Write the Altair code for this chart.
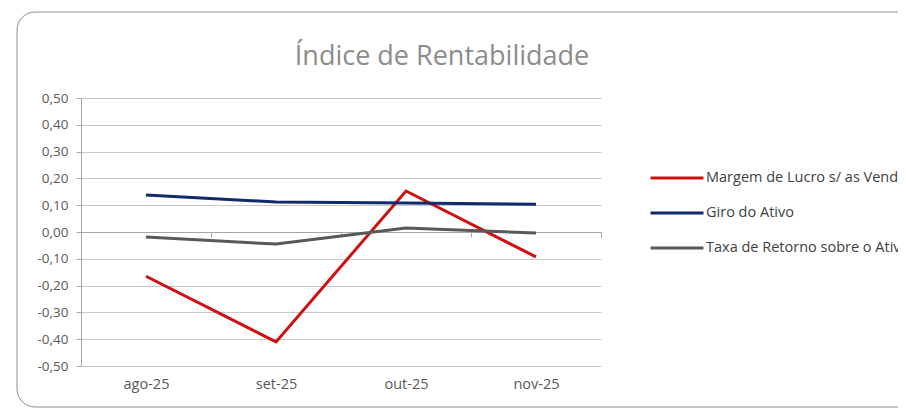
import altair as alt
import pandas as pd

months = ["ago-25", "set-25", "out-25", "nov-25"]
series = ["Margem de Lucro s/ as Vendas", "Giro do Ativo", "Taxa de Retorno sobre o Ativo"]
margem = [-0.165, -0.41, 0.153, -0.093]
giro = [0.138, 0.112, 0.108, 0.104]
taxa = [-0.019, -0.045, 0.015, -0.004]
colors = ["#cc1111", "#12296b", "#595959"]
y_ticks = [-0.5, -0.4, -0.3, -0.2, -0.1, 0.0, 0.1, 0.2, 0.3, 0.4, 0.5]
title_text = "Índice de Rentabilidade"

rows = []
for s, vals in zip(series, [margem, giro, taxa]):
    for m, v in zip(months, vals):
        rows.append({"mes": m, "serie": s, "valor": v})
df = pd.DataFrame(rows)
meta = pd.DataFrame({"t": [title_text]})

FONT = "Open Sans"
AX = "#a6a6a6"

lines = alt.Chart(df).mark_line(strokeWidth=3).encode(
    x=alt.X("mes:N", sort=months,
            scale=alt.Scale(type="band", paddingInner=0, paddingOuter=0),
            axis=alt.Axis(title=None, offset=-134, tickBand="extent", labelPadding=140,
                          domainColor=AX, tickColor=AX, tickSize=5, labelAngle=0, grid=False,
                          labelFont=FONT, labelFontSize=14.5, labelColor="#595959")),
    y=alt.Y("valor:Q", scale=alt.Scale(domain=[-0.5, 0.5], nice=False, zero=False),
            axis=alt.Axis(title=None, values=y_ticks, tickSize=5, labelPadding=8,
                          labelExpr="replace(replace(format(datum.value, '.2f'), '.', ','), '\u2212', '-')",
                          domainColor=AX, tickColor=AX, gridColor="#c8c8c8",
                          labelFont=FONT, labelFontSize=13.5, labelColor="#595959")),
    color=alt.Color("serie:N", sort=series,
                    scale=alt.Scale(domain=series, range=colors),
                    legend=alt.Legend(title=None, orient="none", legendX=568, legendY=52,
                                      symbolType="stroke", symbolSize=2809, symbolStrokeWidth=3,
                                      labelFont=FONT, labelFontSize=14.5, labelColor="#404040",
                                      labelLimit=400, labelOffset=1, padding=0, rowPadding=0)),
)

frame = alt.Chart(meta).mark_rect(filled=False, stroke="#8c8c8c", strokeWidth=1, cornerRadius=18).encode(
    x=alt.value(-64), x2=alt.value(1400), y=alt.value(-86), y2=alt.value(309)
)

title = alt.Chart(meta).mark_text(font=FONT, fontSize=27, color="#8c8c8c", align="center",
                                  baseline="alphabetic").encode(
    text="t:N", x=alt.value(361), y=alt.value(-33)
)

chart = alt.layer(frame, title, lines).properties(
    width=520, height=268,
    autosize=alt.AutoSizeParams(type="none"),
    padding={"left": 73, "top": 90, "right": 297, "bottom": 42},
    background="white",
).configure_view(stroke=None)

chart.save("out.html", embed_options={"renderer": "svg", "actions": False})
